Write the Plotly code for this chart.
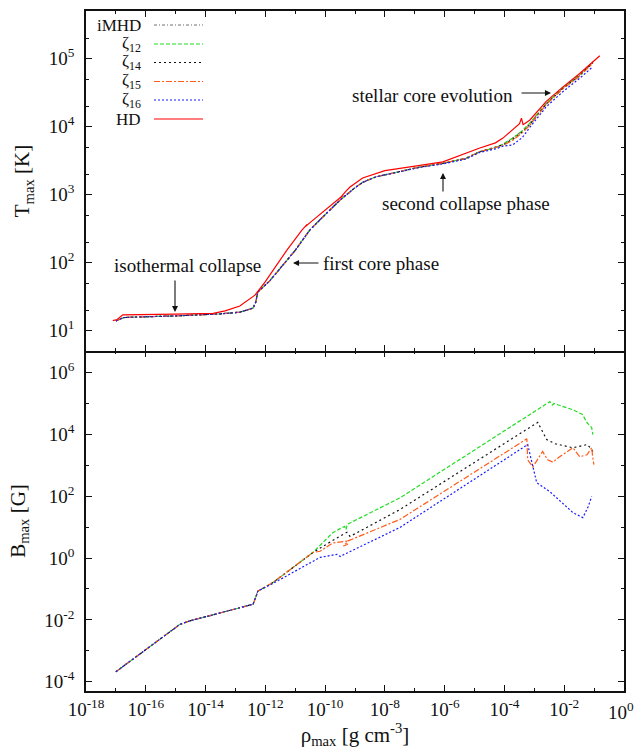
import plotly.graph_objects as go

# ---------------- data ----------------
# Upper panel: maximum temperature vs maximum density
rho_mhd_T = [1.0e-17, 1.8e-17, 5.0e-17, 1.0e-15, 3.2e-14, 1.4e-13, 3.9e-13, 4.8e-13, 5.6e-13,
             1.4e-12, 1.0e-11, 3.1e-11, 6.8e-11, 3.2e-10, 1.0e-09, 1.8e-09, 5.0e-09, 3.2e-08,
             1.5e-07, 8.7e-07, 5.0e-06, 1.5e-05, 5.0e-05, 8.9e-05, 1.9e-04, 4.0e-04, 7.1e-04,
             2.5e-03, 8.9e-03, 3.3e-02, 9.1e-02]
T_imhd = [13.8, 15.5, 15.8, 16.4, 17.6, 18.6, 21.4, 26.3, 36.9, 53.7, 151, 302, 427, 832, 1260,
          1510, 1820, 2190, 2540, 2880, 3390, 4270, 4900, 5500, 6760, 8710, 11200, 21900, 36900,
          57500, 89100]
T_z12 = [13.8, 15.5, 15.8, 16.4, 17.6, 18.6, 21.4, 26.3, 36.9, 53.7, 151, 302, 427, 832, 1260,
         1510, 1820, 2190, 2540, 2880, 3390, 4270, 4900, 5500, 6760, 8710, 11200, 21900, 36900,
         57500, 89100]
T_z14 = [13.8, 15.5, 15.8, 16.4, 17.6, 18.6, 21.4, 26.3, 36.9, 53.7, 151, 302, 427, 832, 1260,
         1510, 1820, 2190, 2540, 2880, 3390, 4270, 4900, 5370, 6460, 8320, 10700, 21400, 36300,
         56200, 87100]
T_z15 = [13.8, 15.5, 15.8, 16.4, 17.6, 18.6, 21.4, 26.3, 36.9, 53.7, 151, 302, 427, 832, 1260,
         1510, 1820, 2190, 2540, 2880, 3390, 4270, 4900, 5250, 6310, 8130, 10500, 21100, 35500,
         55000, 85100]
T_z16 = [13.8, 15.5, 15.8, 16.4, 17.6, 18.6, 21.4, 26.3, 36.9, 53.7, 151, 302, 427, 832, 1260,
         1510, 1820, 2190, 2510, 2820, 3310, 4170, 4680, 5130, 5370, 6920, 9770, 19500, 32400,
         51300, 75900]

rho_hd = [7.9e-18, 1.1e-17, 1.7e-17, 3.2e-17, 1.0e-15, 1.8e-14, 4.5e-14, 1.4e-13, 4.5e-13,
          1.0e-12, 5.2e-12, 1.7e-11, 2.5e-11, 2.2e-11, 3.2e-11, 6.8e-11, 2.0e-10, 4.0e-10,
          3.2e-10, 5.0e-10, 6.8e-10, 1.8e-09, 1.0e-08, 1.5e-07, 8.7e-07, 1.5e-05, 5.0e-05,
          8.9e-05, 1.9e-04, 3.2e-04, 3.7e-04, 4.2e-04, 5.0e-04, 7.1e-04, 2.5e-03, 8.9e-03,
          3.3e-02, 9.1e-02, 1.55e-01]
T_hd = [14.0, 14.5, 17.0, 17.0, 17.4, 17.9, 19.5, 22.9, 33.1, 52.5, 151, 302, 363, 339, 389,
        513, 759, 977, 891, 1120, 1290, 1750, 2240, 2690, 3020, 4830, 5750, 6760, 8910, 11000,
        13300, 10700, 11200, 12500, 23400, 38000, 60300, 91200, 110000]

# Lower panel: maximum magnetic field vs maximum density
rho_z12_B = [1.0e-17, 1.0e-16, 3.8e-16, 1.4e-15, 3.0e-15, 3.2e-14, 3.9e-13, 5.2e-13, 5.6e-13,
             1.8e-12, 3.9e-11, 1.8e-10, 4.5e-10, 5.0e-10, 5.5e-10, 3.2e-08, 3.3e-03, 4.0e-03,
             4.5e-03, 1.95e-02, 4.1e-02, 5.8e-02, 8.3e-02, 9.1e-02]
B_z12 = [2.1e-4, 1.1e-3, 2.7e-3, 7.2e-3, 9.3e-3, 1.74e-2, 3.2e-2, 6.8e-2, 8.5e-2, 0.162, 1.51,
         6.6, 10.7, 8.4, 12.3, 88.5, 1.15e5, 8.9e4, 1.0e5, 6.3e4, 4.4e4, 2.4e4, 1.66e4, 9.8e3]
rho_z14_B = [1.0e-17, 1.0e-16, 3.8e-16, 1.4e-15, 3.0e-15, 3.2e-14, 3.9e-13, 5.2e-13, 5.6e-13,
             1.8e-12, 3.9e-11, 3.0e-10, 5.4e-10, 6.8e-10, 3.2e-08, 1.3e-03, 2.6e-03, 5.0e-03,
             1.95e-02, 3.5e-02, 5.8e-02, 7.9e-02, 9.1e-02]
B_z14 = [2.1e-4, 1.1e-3, 2.7e-3, 7.2e-3, 9.3e-3, 1.74e-2, 3.2e-2, 6.8e-2, 8.5e-2, 0.162, 1.51,
         5.0, 6.8, 5.0, 37.2, 2.45e4, 6.8e3, 5.0e3, 3.7e3, 4.2e3, 4.7e3, 3.5e3, 2.75e3]
rho_z15_B = [1.0e-17, 1.0e-16, 3.8e-16, 1.4e-15, 3.0e-15, 3.2e-14, 3.9e-13, 5.2e-13, 5.6e-13,
             1.8e-12, 3.9e-11, 6.8e-11, 1.8e-10, 5.4e-10, 5.6e-10, 4.1e-10, 5.9e-10, 3.2e-08,
             5.6e-04, 6.0e-04, 8.9e-04, 1.9e-03, 2.8e-03, 4.2e-03, 6.5e-03, 1.95e-02, 3.3e-02,
             5.8e-02, 8.3e-02, 8.9e-02, 9.8e-02]
B_z15 = [2.1e-4, 1.1e-3, 2.7e-3, 7.2e-3, 9.3e-3, 1.74e-2, 3.2e-2, 6.8e-2, 8.5e-2, 0.162, 1.51,
         1.66, 3.1, 3.5, 2.75, 2.45, 3.6, 17.8, 7.2e3, 1.5e3, 8.9e2, 2.8e3, 1.5e3, 1.26e3, 1.8e3,
         3.7e3, 1.9e3, 2.2e3, 3.7e3, 2.0e3, 1.05e3]
rho_z16_B = [1.0e-17, 1.0e-16, 3.8e-16, 1.4e-15, 3.0e-15, 3.2e-14, 3.9e-13, 5.2e-13, 5.6e-13,
             1.8e-12, 6.8e-11, 2.5e-10, 3.2e-10, 4.0e-10, 3.2e-08, 6.0e-04, 1.2e-03, 3.3e-03,
             1.95e-02, 4.2e-02, 6.2e-02, 8.3e-02]
B_z16 = [2.1e-4, 1.1e-3, 2.7e-3, 7.2e-3, 9.3e-3, 1.74e-2, 3.2e-2, 6.8e-2, 8.5e-2, 0.151, 1.05,
         1.32, 1.12, 1.26, 9.8, 4.7e3, 2.75e2, 1.41e2, 29.5, 20.4, 43.7, 97.7]

x_tickvals = [1e-18, 1e-16, 1e-14, 1e-12, 1e-10, 1e-8, 1e-6, 1e-4, 1e-2, 1e0]
x_ticktext = ["10<sup>-18</sup>", "10<sup>-16</sup>", "10<sup>-14</sup>", "10<sup>-12</sup>",
              "10<sup>-10</sup>", "10<sup>-8</sup>", "10<sup>-6</sup>", "10<sup>-4</sup>",
              "10<sup>-2</sup>", ""]
x_last_label = "10<sup>0</sup>"
x_minor = [1e-17, 1e-15, 1e-13, 1e-11, 1e-9, 1e-7, 1e-5, 1e-3, 1e-1]
yT_tickvals = [1e1, 1e2, 1e3, 1e4, 1e5]
yT_ticktext = ["10<sup>1</sup>", "10<sup>2</sup>", "10<sup>3</sup>", "10<sup>4</sup>", "10<sup>5</sup>"]
yT_minor = [20, 50, 200, 500, 2000, 5000, 2e4, 5e4, 2e5]
yB_tickvals = [1e-4, 1e-2, 1e0, 1e2, 1e4, 1e6]
yB_ticktext = ["10<sup>-4</sup>", "10<sup>-2</sup>", "10<sup>0</sup>", "10<sup>2</sup>",
               "10<sup>4</sup>", "10<sup>6</sup>"]
yB_minor = [1e-3, 1e-1, 1e1, 1e3, 1e5]

series_names = ["iMHD", "ζ<sub>12</sub>", "ζ<sub>14</sub>", "ζ<sub>15</sub>", "ζ<sub>16</sub>", "HD"]

# ---------------- styles ----------------
FONT = "Liberation Serif, Times New Roman, serif"
INK = "#111111"
C_IMHD, C_Z12, C_Z14, C_Z15, C_Z16, C_HD = "#6e6e6e", "#22dd22", "#111111", "#ff5a1a", "#1a1aff", "#ff0000"
D_IMHD, D_Z12, D_Z14, D_Z15, D_Z16 = "3px,2px,1px,2px", "4px,2px", "2px,3px", "6px,2px,2px,2px", "2px,2px"
LW = 1.2

fig = go.Figure()

def add(x, y, color, dash, panel):
    fig.add_trace(go.Scatter(x=x, y=y, mode="lines", showlegend=False, hoverinfo="skip",
                             xaxis="x" if panel == 1 else "x2", yaxis="y" if panel == 1 else "y2",
                             line=dict(color=color, width=LW, dash=dash)))

add(rho_mhd_T, T_imhd, C_IMHD, D_IMHD, 1)
add(rho_mhd_T, T_z12, C_Z12, D_Z12, 1)
add(rho_mhd_T, T_z14, C_Z14, D_Z14, 1)
add(rho_mhd_T, T_z15, C_Z15, D_Z15, 1)
add(rho_mhd_T, T_z16, C_Z16, D_Z16, 1)
add(rho_hd, T_hd, C_HD, "solid", 1)

add(rho_z12_B, B_z12, C_Z12, D_Z12, 2)
add(rho_z14_B, B_z14, C_Z14, D_Z14, 2)
add(rho_z15_B, B_z15, C_Z15, D_Z15, 2)
add(rho_z16_B, B_z16, C_Z16, D_Z16, 2)

def axis(**kw):
    d = dict(type="log", showline=True, linecolor=INK, linewidth=1.5, mirror="ticks",
             ticks="inside", ticklen=6, tickwidth=1, tickcolor=INK, showgrid=False,
             zeroline=False, tickfont=dict(family=FONT, size=19, color=INK), tickmode="array",
             automargin=False)
    d.update(kw)
    return d

title_font = dict(family=FONT, size=21, color=INK)
minor_x = dict(tickvals=x_minor, ticks="inside", ticklen=3, tickcolor=INK)

fig.update_layout(
    # upper panel x axis: frame line + ticks on top and along the shared middle line
    xaxis=axis(domain=[0, 1], anchor="y", range=[-18, 0], tickvals=x_tickvals, ticktext=x_ticktext,
               showticklabels=False, minor=minor_x),
    # lower panel x axis: bottom line, ticks and labels only
    xaxis2=axis(domain=[0, 1], anchor="y2", range=[-18, 0], tickvals=x_tickvals, ticktext=x_ticktext,
                mirror=False, minor=minor_x,
                title=dict(text="ρ<sub>max</sub> [g cm<sup>-3</sup>]", font=title_font, standoff=14)),
    # ticks pointing down into the lower panel from the middle line (no extra line)
    xaxis3=axis(domain=[0, 1], anchor="y2", overlaying="x2", side="top", range=[-18, 0],
                tickvals=x_tickvals, ticktext=x_ticktext, showline=False, mirror=False,
                showticklabels=False, minor=minor_x),
    yaxis=axis(domain=[0.5, 1], anchor="x", range=[0.69897, 5.69897], tickvals=yT_tickvals,
               ticktext=yT_ticktext, ticklabelstandoff=6,
               minor=dict(tickvals=yT_minor, ticks="inside", ticklen=3, tickcolor=INK),
               title=dict(text="T<sub>max</sub> [K]", font=title_font, standoff=13)),
    yaxis2=axis(domain=[0, 0.5], anchor="x2", range=[-4.30103, 6.69897], tickvals=yB_tickvals,
                ticktext=yB_ticktext, ticklabelstandoff=6,
                minor=dict(tickvals=yB_minor, ticks="inside", ticklen=3, tickcolor=INK),
                title=dict(text="B<sub>max</sub> [G]", font=title_font, standoff=13)),
)
# invisible helper trace so the overlay axis is drawn
fig.add_trace(go.Scatter(x=[1e-18], y=[1e-4], mode="markers", marker=dict(opacity=0),
                         xaxis="x3", yaxis="y2", showlegend=False, hoverinfo="skip"))

# pixel -> paper helpers (plot area: x 86..624, y 11..691)
def px(x):
    return (x - 86) / 538.0

def py(y):
    return (691 - y) / 680.0

# last x tick label, kept inside the page
fig.add_annotation(x=px(636), y=py(697), xref="paper", yref="paper", text=x_last_label,
                   showarrow=False, xanchor="right", yanchor="top",
                   font=dict(family=FONT, size=19, color=INK))

# manual gnuplot-style legend (text left, sample right)
legend_y = [25, 44, 62.5, 81.5, 100, 119]
legend_colors = [C_IMHD, C_Z12, C_Z14, C_Z15, C_Z16, C_HD]
legend_dash = [D_IMHD, D_Z12, D_Z14, D_Z15, D_Z16, "solid"]
for name, yy, col, dsh in zip(series_names, legend_y, legend_colors, legend_dash):
    fig.add_annotation(x=px(143), y=py(yy), xref="paper", yref="paper", text=name, showarrow=False,
                       xanchor="right", yanchor="middle", font=dict(family=FONT, size=17, color=INK))
    fig.add_shape(type="line", xref="paper", yref="paper", x0=px(154), x1=px(203), y0=py(yy), y1=py(yy),
                  line=dict(color=col, width=LW, dash=dsh))

# text labels
labels = [("stellar core evolution", 432, 95), ("second collapse phase", 466, 203),
          ("first core phase", 381, 263), ("isothermal collapse", 187, 265)]
for t, xx, yy in labels:
    fig.add_annotation(x=px(xx), y=py(yy), xref="paper", yref="paper", text=t, showarrow=False,
                       xanchor="center", yanchor="middle", font=dict(family=FONT, size=19, color=INK))

# arrows: (head x, head y, dx tail, dy tail) in pixels
arrows = [(551, 93, -31, 0), (443, 173, 0, 20), (175, 312, 0, -33), (293, 263, 27, 0)]
for hx, hy, ax, ay in arrows:
    fig.add_annotation(x=px(hx), y=py(hy), xref="paper", yref="paper", text="", showarrow=True,
                       ax=ax, ay=ay, arrowhead=2, arrowsize=1.1, arrowwidth=1.1, arrowcolor=INK)

fig.update_layout(width=636, height=749, margin=dict(l=86, r=12, t=11, b=58),
                  plot_bgcolor="white", paper_bgcolor="white", showlegend=False,
                  font=dict(family=FONT, size=18, color=INK))

fig.write_html("out.html", config={"displayModeBar": False},
               post_script="document.body.style.margin='0px';document.body.style.overflow='hidden';")
